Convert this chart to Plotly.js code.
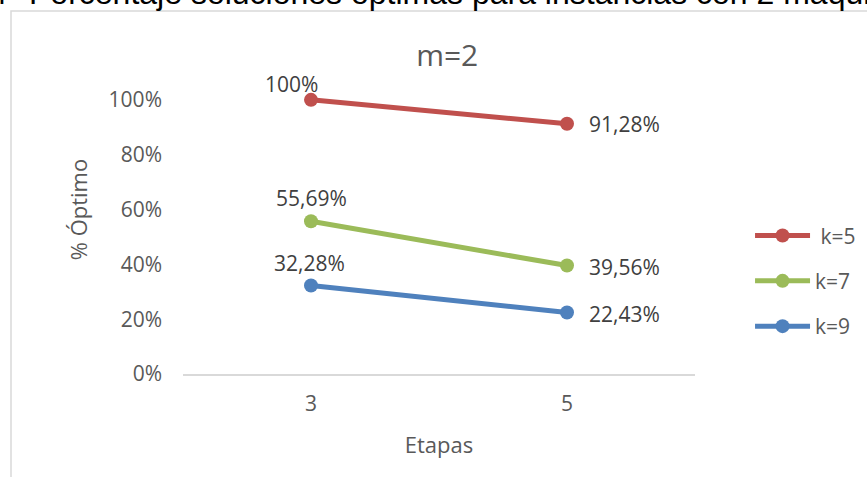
<!DOCTYPE html>
<html>
<head>
<meta charset="utf-8">
<script src="https://cdn.plot.ly/plotly-3.0.1.min.js"></script>
<style>
  html, body { margin: 0; padding: 0; background: #ffffff; }
  #chart { width: 867px; height: 477px; }
</style>
</head>
<body>
<div id="chart"></div>
<script>
// Stages on the horizontal axis
const etapas = ['3', '5'];

// Share of optimal solutions per number of jobs k (m = 2 machines)
const seriesNames = ['\u00a0k=5', 'k=7', 'k=9'];
const optimoK5 = [1.0, 0.9128];
const optimoK7 = [0.5569, 0.3956];
const optimoK9 = [0.3228, 0.2243];

const yTicks = [0, 0.2, 0.4, 0.6, 0.8, 1.0];

const colors = ['#C0504D', '#9BBB59', '#4F81BD'];
const valuesBySeries = [optimoK5, optimoK7, optimoK9];

// Percent with decimal comma, whole values without decimals
function pctLabel(v) {
  const p = v * 100;
  if (Math.abs(p - Math.round(p)) < 1e-9) return Math.round(p) + '%';
  return p.toFixed(2).replace('.', ',') + '%';
}

const FONT = 'Open Sans, sans-serif';
const GREY = '#595959';

const traces = valuesBySeries.map((vals, i) => ({
  type: 'scatter',
  mode: 'lines+markers',
  name: seriesNames[i],
  legendgroup: 'g' + i,
  x: etapas,
  y: vals,
  line: { color: colors[i], width: 5 },
  marker: { color: colors[i], size: 14 },
  hoverinfo: 'skip'
}));

// Data labels: offsets per series for the first (left) and second (right) stage
const labelOffsets = [
  [{ xs: -20, ys: 16, xa: 'center' }, { xs: 20, ys: 0, xa: 'left' }],
  [{ xs: 0, ys: 23, xa: 'center' }, { xs: 20, ys: -1, xa: 'left' }],
  [{ xs: -2, ys: 23, xa: 'center' }, { xs: 20, ys: -1, xa: 'left' }]
];

const annotations = [];
valuesBySeries.forEach((vals, i) => {
  vals.forEach((v, j) => {
    const o = labelOffsets[i][j];
    annotations.push({
      x: j, y: v, xref: 'x', yref: 'y',   // category index of etapas[j]
      text: pctLabel(v), showarrow: false,
      xanchor: o.xa, yanchor: 'middle',
      xshift: o.xs, yshift: o.ys,
      font: { family: FONT, size: 21, color: '#404040' }
    });
  });
});

// Caption line running above the chart frame
const CAPTION_FONT = { family: 'Liberation Sans, Arial, sans-serif', size: 32, color: '#000000' };
annotations.push({
  xref: 'paper', yref: 'paper', x: -0.3047, y: 1.158,
  xanchor: 'left', yanchor: 'middle', showarrow: false,
  text: 'Porcentaje soluciones óptimas para instancias con 2 máquinas',
  font: CAPTION_FONT
});
annotations.push({
  xref: 'paper', yref: 'paper', x: -0.3398, y: 1.158,
  xanchor: 'right', yanchor: 'middle', showarrow: false,
  text: 'Figura 4',
  font: CAPTION_FONT
});

const layout = {
  width: 867,
  height: 477,
  margin: { l: 183, r: 172, t: 45, b: 103, autoexpand: false },
  paper_bgcolor: '#ffffff',
  plot_bgcolor: '#ffffff',
  separators: ',.',
  showlegend: true,
  title: {
    text: 'm=2',
    font: { family: FONT, size: 30, color: GREY },
    xref: 'paper', x: 0.516, xanchor: 'center',
    yref: 'container', y: 1 - 55 / 477, yanchor: 'middle'
  },
  xaxis: {
    type: 'category',
    range: [-0.5, 1.5],
    showgrid: false,
    zeroline: false,
    showline: true,
    linecolor: '#D9D9D9',
    linewidth: 1.5,
    ticks: '',
    ticklabelstandoff: 10,
    tickfont: { family: FONT, size: 21, color: GREY },
    title: { text: 'Etapas', font: { family: FONT, size: 22, color: GREY }, standoff: 22 }
  },
  yaxis: {
    range: [0, 1.2],
    tickvals: yTicks,
    tickformat: '.0%',
    showgrid: false,
    zeroline: false,
    showline: false,
    ticks: '',
    ticklabelstandoff: 20,
    tickfont: { family: FONT, size: 21, color: GREY },
    title: { text: '% Óptimo', font: { family: FONT, size: 22, color: GREY }, standoff: 14 }
  },
  legend: {
    x: 1.1075, xanchor: 'left',
    y: 0.283, yanchor: 'middle',
    itemwidth: 55,
    tracegroupgap: 15,
    font: { family: FONT, size: 21, color: GREY },
    bgcolor: 'rgba(0,0,0,0)'
  },
  shapes: [{
    type: 'rect', xref: 'paper', yref: 'paper',
    x0: (11 - 183) / 512, x1: 2,
    y0: -1, y1: (374 - 11) / 329,
    line: { color: '#D9D9D9', width: 1.5 },
    fillcolor: 'rgba(0,0,0,0)',
    layer: 'below'
  }],
  annotations: annotations
};

Plotly.newPlot('chart', traces, layout, { displayModeBar: false, staticPlot: true });
</script>
</body>
</html>
